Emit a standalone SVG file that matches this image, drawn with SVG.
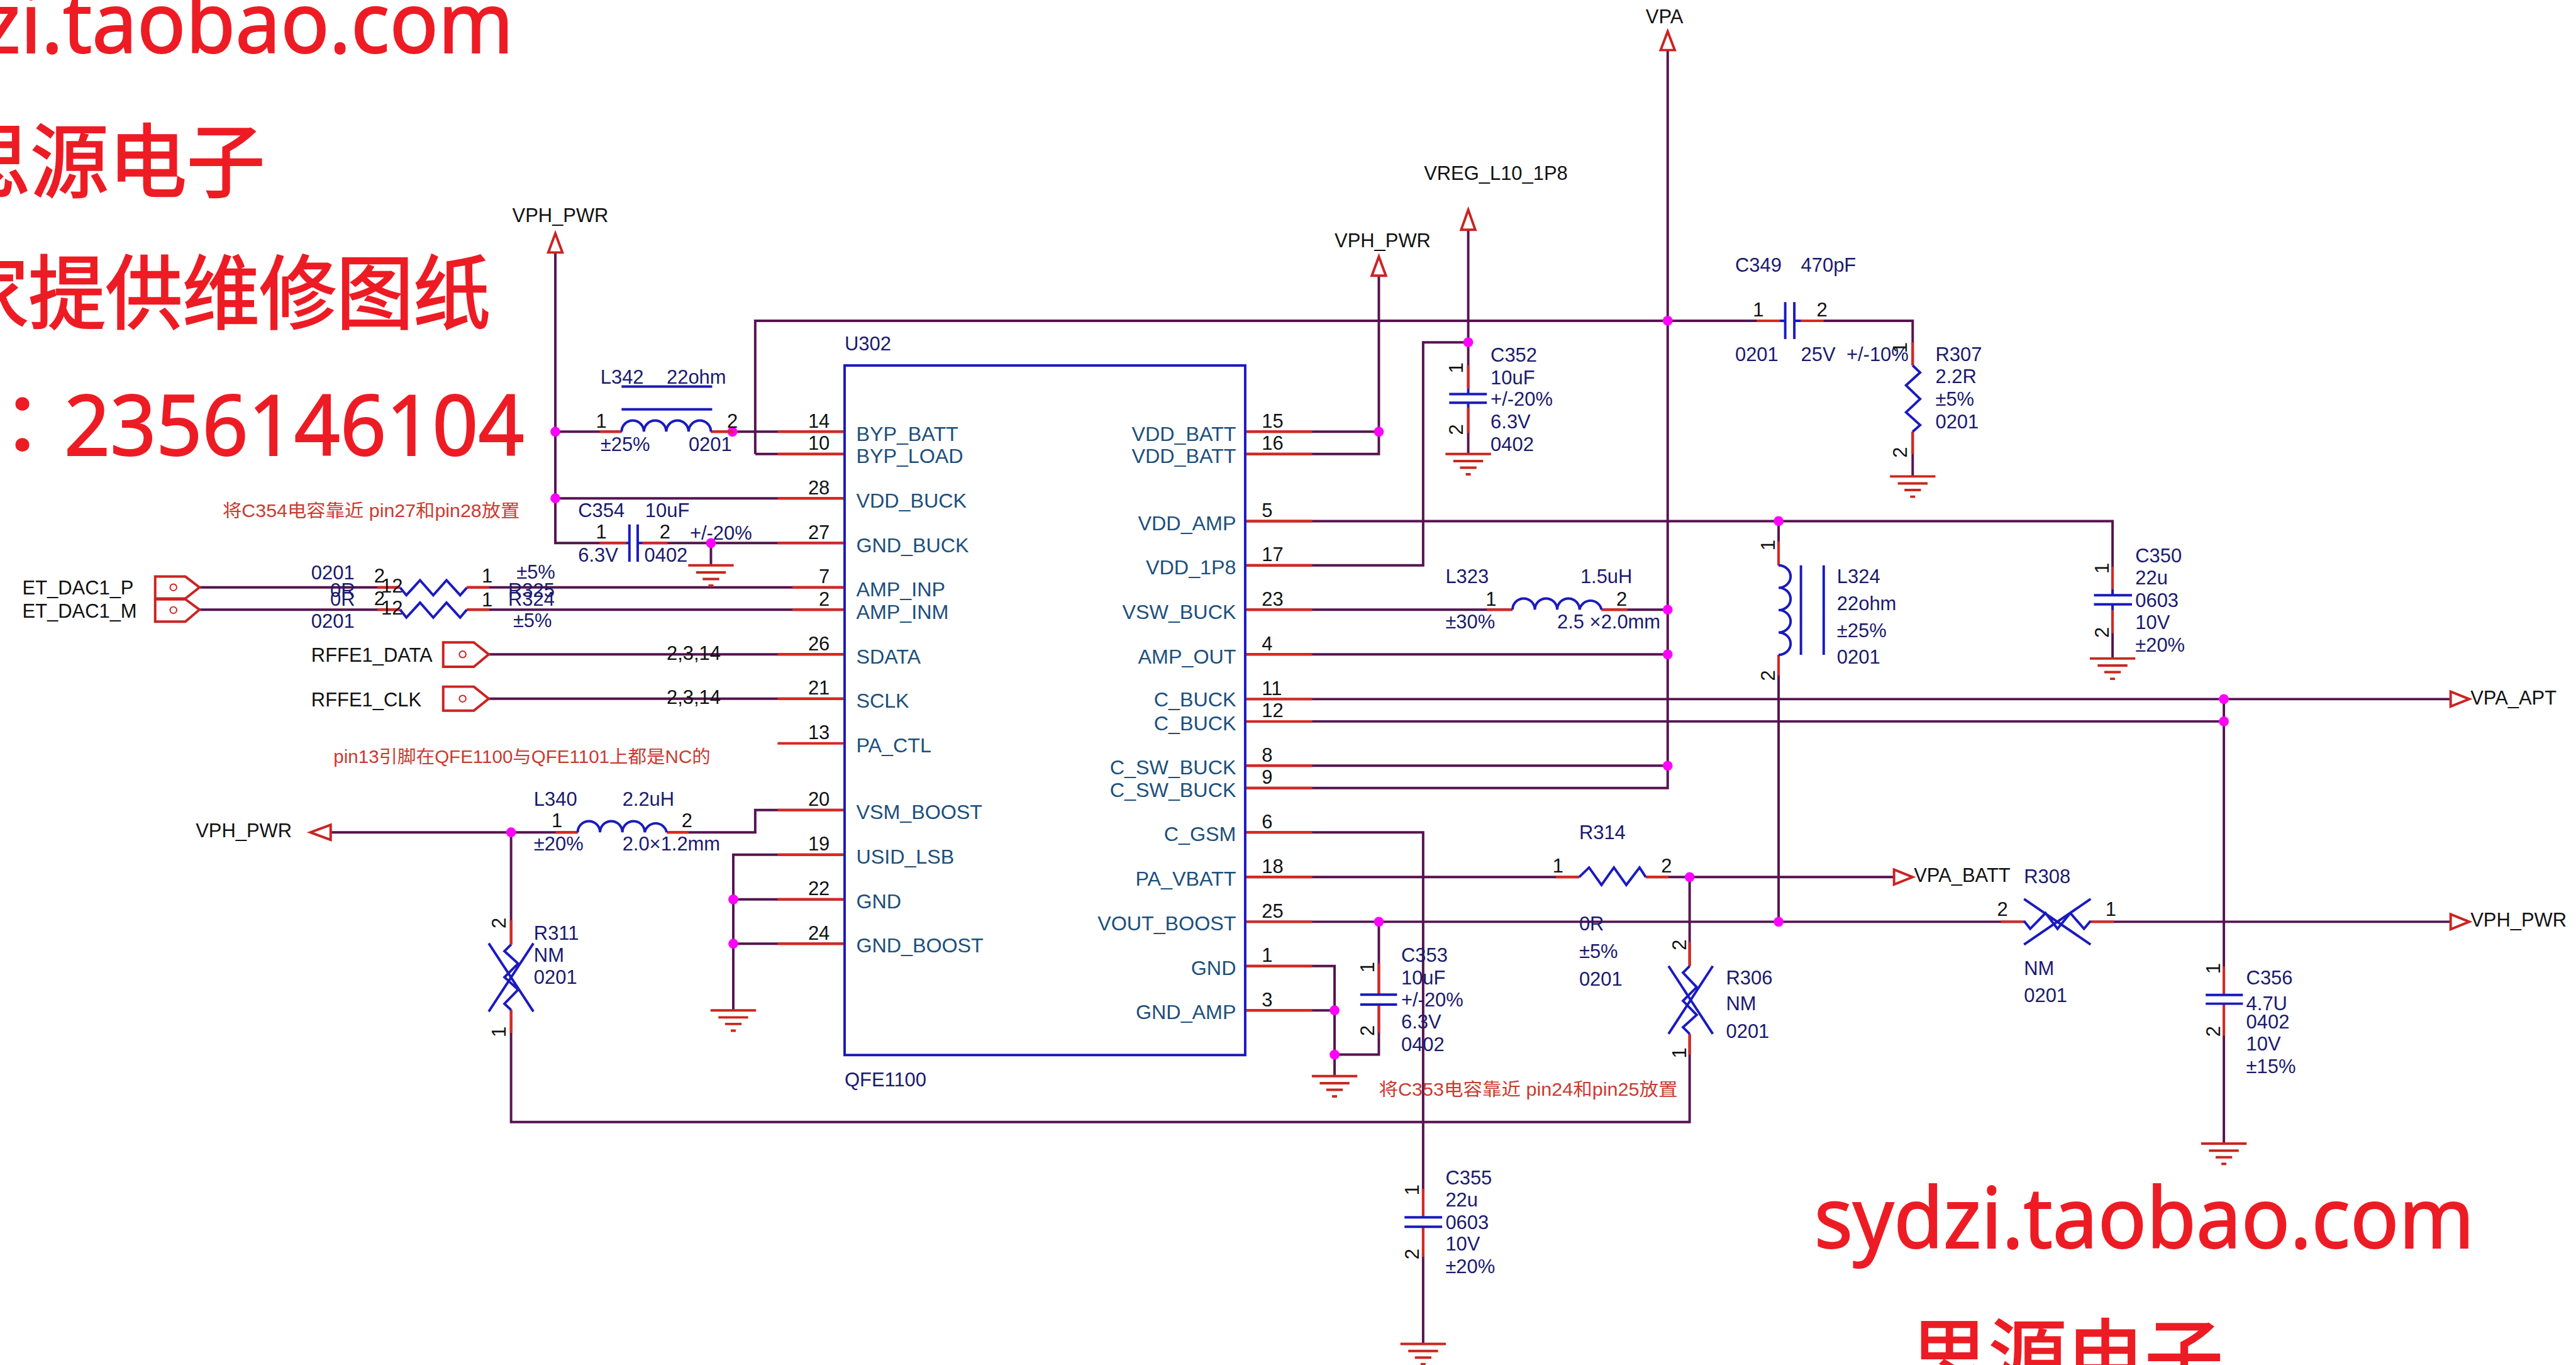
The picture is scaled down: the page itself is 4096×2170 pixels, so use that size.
<svg xmlns="http://www.w3.org/2000/svg" width="4096" height="2170" viewBox="0 0 4096 2170">
<style>
text{font-family:"Liberation Sans","Noto Sans CJK SC",sans-serif;font-size:47px}
.w{fill:none;stroke:#561450;stroke-width:6}
.s{fill:none;stroke:#d9281e;stroke-width:6}
.b{fill:none;stroke:#1a1ac0;stroke-width:6}
.a{fill:#fff;stroke:#cc2222;stroke-width:6}
.g{fill:none;stroke:#c8281e;stroke-width:6}
.dot{fill:#f0f}
.n{fill:#111}
.k{fill:#111}
.l{fill:#1c4f7c;font-size:49px;transform:translateY(-2px)}
.r{fill:#1c4f7c;font-size:49px;text-anchor:end;transform:translateY(-2px)}
.d{fill:#1a1a6e}
.v{fill:#111;text-anchor:middle}
.c{fill:#111;text-anchor:middle}
.note{fill:#cc3a30;font-size:44px}
.big{fill:#ed1c24;stroke:#ed1c24;stroke-width:3;font-family:"Noto Sans","Noto Sans CJK SC",sans-serif;font-size:204px}
.cjk{fill:#ed1c24;stroke:#ed1c24;stroke-width:4;font-family:"Noto Sans CJK SC",sans-serif;font-size:195px}
</style>
<defs>
<g id="gnd"><path class="g" d="M-55 0H55M-36 17H36M-20 33H20M-6 49H6"/></g>
<circle id="j" class="dot" r="12"/>
</defs>
<rect width="4096" height="2170" fill="#fff"/>
<g transform="scale(0.658)">
<g id="watermark">
<text class="big" x="-354" y="128" textLength="1595" lengthAdjust="spacingAndGlyphs">sydzi.taobao.com</text>
<text class="cjk" x="-115" y="462" textLength="755" lengthAdjust="spacingAndGlyphs">思源电子</text>
<text class="cjk" x="-117" y="780" textLength="1302" lengthAdjust="spacingAndGlyphs">家提供维修图纸</text>
<text class="big" x="-46" y="1100" style="font-family:'Noto Sans CJK TC',sans-serif;font-size:200px">：</text>
<text class="big" x="155" y="1100" textLength="1112" lengthAdjust="spacingAndGlyphs">2356146104</text>
<text class="big" x="4384" y="3015" textLength="1595" lengthAdjust="spacingAndGlyphs">sydzi.taobao.com</text>
<text class="cjk" x="4617" y="3350" textLength="755" lengthAdjust="spacingAndGlyphs">思源电子</text>
</g>
<g id="connectors">
<path class="w" d="M1342 610V1312H1513M1342 1043H1502M1718 1043H2041M1342 1204H2041M1553 1312H2041M1718 1312V1366"/>
<path class="w" d="M1825 1097V775H4301M4352 775H4622V883M4622 1043V1151M1825 1097H2041"/>
<path class="w" d="M482 1419H967M1128 1419H2041M482 1473H967M1128 1473H2041M1181 1581H2041M1181 1688H2041"/>
<path class="w" d="M799 2011H1396M1611 2011H1825V1957H2041M1772 2441V2065H2041M1772 2173H2041M1772 2280H2041"/>
<path class="w" d="M1235 2011V2282M1235 2440V2711H4083V2498M4083 2119V2334"/>
<path class="w" d="M3009 1043H3332M3332 666V1097H3009M3009 1366H3439V827H3548M3548 555V938M3548 986V1097"/>
<path class="w" d="M3009 1259H5105V1438M5105 1460V1591M4298 1259V1366M4298 1582V2227"/>
<path class="w" d="M3009 1473H3655M3870 1473H4030M4030 121V1904H3009M3009 1581H4030M3009 1850H4030"/>
<path class="w" d="M3009 1689H5922M3009 1743H5374M5374 1689V2404M5374 2425V2763"/>
<path class="w" d="M3009 2011H3439V2941M3439 2964V3247M3009 2119H3816M3977 2119H4577"/>
<path class="w" d="M3009 2227H4891M5052 2227H5922M3009 2334H3225V2600M3009 2441H3225M3332 2227V2403M3332 2427V2548H3225"/>
<path class="s" d="M1879 1043H2041M1879 1097H2041M1879 1204H2041M1879 1312H2041M1915 1419H2041M1915 1473H2041M1879 1581H2041M1879 1688H2041M1879 1796H2041M1879 1957H2041M1879 2065H2041M1879 2173H2041M1879 2280H2041"/>
<path class="s" d="M3009 1043H3171M3009 1097H3171M3009 1259H3171M3009 1366H3171M3009 1473H3171M3009 1581H3171M3009 1689H3171M3009 1743H3171M3009 1850H3171M3009 1904H3171M3009 2011H3171M3009 2119H3171M3009 2227H3171M3009 2334H3171M3009 2441H3171"/>
<use href="#j" x="1342" y="1043"/><use href="#j" x="1770" y="1043"/><use href="#j" x="1342" y="1204"/><use href="#j" x="1718" y="1312"/>
<use href="#j" x="1235" y="2011"/><use href="#j" x="1772" y="2173"/><use href="#j" x="1772" y="2280"/>
<use href="#j" x="3332" y="1043"/><use href="#j" x="3548" y="827"/><use href="#j" x="4030" y="775"/><use href="#j" x="4030" y="1473"/><use href="#j" x="4030" y="1581"/><use href="#j" x="4030" y="1850"/>
<use href="#j" x="4298" y="1259"/><use href="#j" x="4298" y="2227"/><use href="#j" x="5374" y="1689"/><use href="#j" x="5374" y="1743"/>
<use href="#j" x="3332" y="2227"/><use href="#j" x="3225" y="2441"/><use href="#j" x="3225" y="2548"/><use href="#j" x="4083" y="2119"/>
</g>
<g id="U302">
<rect x="2041" y="883" width="968" height="1666" class="b"/>
<text class="d" x="2041" y="846">U302</text><text class="d" x="2041" y="2625">QFE1100</text>
<text class="l" x="2069" y="1067">BYP_BATT</text><text class="l" x="2069" y="1121">BYP_LOAD</text><text class="l" x="2069" y="1228">VDD_BUCK</text><text class="l" x="2069" y="1336">GND_BUCK</text><text class="l" x="2069" y="1443">AMP_INP</text><text class="l" x="2069" y="1497">AMP_INM</text><text class="l" x="2069" y="1605">SDATA</text><text class="l" x="2069" y="1712">SCLK</text><text class="l" x="2069" y="1819">PA_CTL</text><text class="l" x="2069" y="1980">VSM_BOOST</text><text class="l" x="2069" y="2088">USID_LSB</text><text class="l" x="2069" y="2196">GND</text><text class="l" x="2069" y="2303">GND_BOOST</text>
<text class="r" x="2987" y="1067">VDD_BATT</text><text class="r" x="2987" y="1121">VDD_BATT</text><text class="r" x="2987" y="1283">VDD_AMP</text><text class="r" x="2987" y="1390">VDD_1P8</text><text class="r" x="2987" y="1497">VSW_BUCK</text><text class="r" x="2987" y="1605">AMP_OUT</text><text class="r" x="2987" y="1708">C_BUCK</text><text class="r" x="2987" y="1766">C_BUCK</text><text class="r" x="2987" y="1873">C_SW_BUCK</text><text class="r" x="2987" y="1927">C_SW_BUCK</text><text class="r" x="2987" y="2034">C_GSM</text><text class="r" x="2987" y="2142">PA_VBATT</text><text class="r" x="2987" y="2250">VOUT_BOOST</text><text class="r" x="2987" y="2357">GND</text><text class="r" x="2987" y="2464">GND_AMP</text>
<g text-anchor="end">
<text class="n" x="2005" y="1033">14</text><text class="n" x="2005" y="1087">10</text><text class="n" x="2005" y="1194">28</text><text class="n" x="2005" y="1302">27</text><text class="n" x="2005" y="1409">7</text><text class="n" x="2005" y="1463">2</text><text class="n" x="2005" y="1571">26</text><text class="n" x="2005" y="1678">21</text><text class="n" x="2005" y="1786">13</text><text class="n" x="2005" y="1947">20</text><text class="n" x="2005" y="2055">19</text><text class="n" x="2005" y="2163">22</text><text class="n" x="2005" y="2270">24</text>
</g>
<text class="n" x="3049" y="1033">15</text><text class="n" x="3049" y="1087">16</text><text class="n" x="3049" y="1249">5</text><text class="n" x="3049" y="1356">17</text><text class="n" x="3049" y="1463">23</text><text class="n" x="3049" y="1571">4</text><text class="n" x="3049" y="1679">11</text><text class="n" x="3049" y="1733">12</text><text class="n" x="3049" y="1840">8</text><text class="n" x="3049" y="1894">9</text><text class="n" x="3049" y="2001">6</text><text class="n" x="3049" y="2109">18</text><text class="n" x="3049" y="2217">25</text><text class="n" x="3049" y="2324">1</text><text class="n" x="3049" y="2431">3</text>
</g>
<g id="power-ports">
<polygon class="a" points="1342,564 1325,610 1359,610"/><text class="k" x="1238" y="537">VPH_PWR</text>
<polygon class="a" points="3332,620 3315,666 3349,666"/><text class="k" x="3225" y="598">VPH_PWR</text>
<polygon class="a" points="3548,507 3531,555 3565,555"/><text class="k" x="3441" y="434">VREG_L10_1P8</text>
<polygon class="a" points="4030,76 4013,121 4047,121"/><text class="k" x="3977" y="56">VPA</text>
<polygon class="a" points="750,2011 799,1993 799,2029"/><text class="k" x="473" y="2023">VPH_PWR</text>
<polygon class="a" points="5967,1689 5922,1671 5922,1707"/><text class="k" x="5970" y="1702">VPA_APT</text>
<polygon class="a" points="4622,2119 4577,2101 4577,2137"/><text class="k" x="4625" y="2131">VPA_BATT</text>
<polygon class="a" points="5967,2227 5922,2209 5922,2245"/><text class="k" x="5970" y="2238">VPH_PWR</text>
</g>
<g id="signal-ports">
<polygon class="a" points="375,1393 448,1393 482,1419 448,1446 375,1446"/><circle class="a" cx="419" cy="1419" r="8" style="stroke-width:3"/>
<polygon class="a" points="375,1448 448,1448 482,1473 448,1502 375,1502"/><circle class="a" cx="419" cy="1474" r="8" style="stroke-width:3"/>
<text class="k" x="54" y="1436">ET_DAC1_P</text><text class="k" x="54" y="1492">ET_DAC1_M</text>
<polygon class="a" points="1071,1552 1145,1552 1181,1581 1145,1611 1071,1611"/><circle class="a" cx="1118" cy="1581" r="8" style="stroke-width:3"/>
<polygon class="a" points="1071,1659 1145,1659 1181,1688 1145,1717 1071,1717"/><circle class="a" cx="1118" cy="1688" r="8" style="stroke-width:3"/>
<text class="k" x="752" y="1599">RFFE1_DATA</text><text class="k" x="752" y="1706">RFFE1_CLK</text>
<text class="k" x="1611" y="1594">2,3,14</text><text class="k" x="1611" y="1701">2,3,14</text>
</g>
<g id="grounds">
<use href="#gnd" x="1718" y="1366"/><use href="#gnd" x="1772" y="2441"/><use href="#gnd" x="3548" y="1097"/><use href="#gnd" x="4622" y="1151"/><use href="#gnd" x="5105" y="1591"/><use href="#gnd" x="3225" y="2600"/><use href="#gnd" x="3439" y="3247"/><use href="#gnd" x="5374" y="2763"/>
</g>
<g id="L342">
<path class="s" d="M1449 1043H1502M1718 1043H1772"/>
<path class="b" d="M1502 1043a27 27 0 0 1 54 0a27 27 0 0 1 54 0a27 27 0 0 1 54 0a27 27 0 0 1 54 0M1502 934H1721M1502 989H1721"/>
<text class="d" x="1451" y="927">L342</text><text class="d" x="1611" y="927">22ohm</text><text class="c" x="1453" y="1033">1</text><text class="c" x="1770" y="1033">2</text><text class="d" x="1451" y="1089">±25%</text><text class="d" x="1664" y="1089">0201</text>
</g>
<g id="C354">
<path class="s" d="M1449 1312H1513M1553 1312H1613"/>
<path class="b" d="M1521 1267V1357M1541 1267V1357M1513 1312H1521M1541 1312H1553"/>
<text class="d" x="1397" y="1249">C354</text><text class="d" x="1559" y="1249">10uF</text><text class="c" x="1453" y="1301">1</text><text class="c" x="1607" y="1301">2</text><text class="d" x="1667" y="1304">+/-20%</text><text class="d" x="1397" y="1357">6.3V</text><text class="d" x="1557" y="1357">0402</text>
</g>
<g id="R325">
<path class="s" d="M912 1419H967M1128 1419H1182"/>
<path class="b" d="M967 1420L982 1438L1015 1402L1047 1438L1079 1402L1112 1438L1128 1420"/>
<text class="d" x="752" y="1400">0201</text><text class="k" x="904" y="1408">2</text><text class="k" x="921" y="1432">12</text><text class="k" x="1164" y="1408">1</text><text class="d" x="1248" y="1398">±5%</text><text class="d" x="798" y="1442">0R</text><text class="d" x="1228" y="1442">R325</text>
</g>
<g id="R324">
<path class="s" d="M912 1473H967M1128 1473H1182"/>
<path class="b" d="M967 1473L982 1492L1015 1456L1047 1492L1079 1456L1112 1492L1128 1473"/>
<text class="d" x="752" y="1517">0201</text><text class="k" x="904" y="1462">2</text><text class="k" x="921" y="1485">12</text><text class="k" x="1164" y="1465">1</text><text class="d" x="1240" y="1515">±5%</text><text class="d" x="798" y="1463">0R</text><text class="d" x="1228" y="1463">R324</text>
</g>
<g id="L340">
<path class="s" d="M1343 2011H1396M1611 2011H1664"/>
<path class="b" d="M1396 2011a27 27 0 0 1 54 0a27 27 0 0 1 54 0a27 27 0 0 1 54 0a27 27 0 0 1 53 0"/>
<text class="d" x="1290" y="1947">L340</text><text class="d" x="1504" y="1947">2.2uH</text><text class="c" x="1346" y="1998">1</text><text class="c" x="1660" y="1998">2</text><text class="d" x="1290" y="2054">±20%</text><text class="d" x="1504" y="2054">2.0×1.2mm</text>
</g>
<g id="R311">
<path class="s" d="M1235 2223V2282M1235 2440V2496"/>
<path class="b" d="M1235 2282L1219 2298L1252 2328L1219 2361L1252 2391L1219 2425L1235 2440M1181 2279L1289 2444M1289 2279L1181 2444"/>
<text class="d" x="1290" y="2270">R311</text><text class="d" x="1290" y="2323">NM</text><text class="d" x="1290" y="2377">0201</text>
<text class="v" transform="translate(1222 2230) rotate(-90)">2</text><text class="v" transform="translate(1222 2493) rotate(-90)">1</text>
</g>
<g id="C352">
<path class="s" d="M3548 883V938M3548 986V1046"/>
<path class="b" d="M3502 952H3593M3502 973H3593M3548 938V952M3548 973V986"/>
<text class="d" x="3602" y="874">C352</text><text class="d" x="3602" y="928">10uF</text><text class="d" x="3602" y="981">+/-20%</text><text class="d" x="3602" y="1035">6.3V</text><text class="d" x="3602" y="1089">0402</text>
<text class="v" transform="translate(3535 889) rotate(-90)">1</text><text class="v" transform="translate(3535 1038) rotate(-90)">2</text>
</g>
<g id="C349">
<path class="s" d="M4245 775H4301M4352 775H4407"/>
<path class="b" d="M4314 730V819M4336 730V819M4301 775H4314M4336 775H4352"/>
<text class="d" x="4193" y="656">C349</text><text class="d" x="4352" y="657">470pF</text><text class="c" x="4249" y="764">1</text><text class="c" x="4403" y="764">2</text><text class="d" x="4193" y="873">0201</text><text class="d" x="4352" y="873">25V</text><text class="d" x="4462" y="873">+/-10%</text>
</g>
<g id="R307">
<path class="s" d="M4622 827V883M4622 1043V1097"/>
<path class="b" d="M4622 883L4640 900L4606 931L4640 964L4606 996L4640 1027L4622 1043"/>
<text class="d" x="4677" y="873">R307</text><text class="d" x="4677" y="925">2.2R</text><text class="d" x="4677" y="981">±5%</text><text class="d" x="4677" y="1035">0201</text>
<text class="v" transform="translate(4608 840) rotate(-90)">1</text><text class="v" transform="translate(4608 1093) rotate(-90)">2</text>
</g>
<g id="L323">
<path class="s" d="M3593 1473H3655M3870 1473H3933"/>
<path class="b" d="M3655 1473a27 27 0 0 1 54 0a27 27 0 0 1 54 0a27 27 0 0 1 54 0a27 27 0 0 1 53 0"/>
<text class="d" x="3493" y="1409">L323</text><text class="d" x="3819" y="1409">1.5uH</text><text class="c" x="3603" y="1463">1</text><text class="c" x="3919" y="1463">2</text><text class="d" x="3493" y="1518">±30%</text><text class="d" x="3763" y="1518">2.5 ×2.0mm</text>
</g>
<g id="L324">
<path class="s" d="M4298 1308V1366M4298 1582V1632"/>
<path class="b" d="M4298 1366a29 27 0 0 1 0 54a29 27 0 0 1 0 54a29 27 0 0 1 0 54a29 27 0 0 1 0 54M4352 1366V1582M4407 1366V1582"/>
<text class="d" x="4439" y="1409">L324</text><text class="d" x="4439" y="1474">22ohm</text><text class="d" x="4439" y="1539">±25%</text><text class="d" x="4439" y="1603">0201</text>
<text class="v" transform="translate(4288 1317) rotate(-90)">1</text><text class="v" transform="translate(4288 1632) rotate(-90)">2</text>
</g>
<g id="C350">
<path class="s" d="M5105 1369V1424M5105 1474V1530"/>
<path class="b" d="M5060 1438H5152M5060 1460H5152M5105 1424V1438M5105 1460V1474"/>
<text class="d" x="5160" y="1358">C350</text><text class="d" x="5160" y="1412">22u</text><text class="d" x="5160" y="1466">0603</text><text class="d" x="5160" y="1520">10V</text><text class="d" x="5160" y="1574">±20%</text>
<text class="v" transform="translate(5095 1373) rotate(-90)">1</text><text class="v" transform="translate(5095 1528) rotate(-90)">2</text>
</g>
<g id="R314">
<path class="s" d="M3760 2119H3816M3977 2119H4032"/>
<path class="b" d="M3816 2119L3840 2096L3870 2138L3900 2096L3930 2138L3962 2096L3977 2119"/>
<text class="d" x="3816" y="2028">R314</text><text class="c" x="3765" y="2108">1</text><text class="c" x="4027" y="2108">2</text><text class="d" x="3816" y="2248">0R</text><text class="d" x="3816" y="2314">±5%</text><text class="d" x="3816" y="2381">0201</text>
</g>
<g id="R306">
<path class="s" d="M4083 2276V2334M4083 2498V2548"/>
<path class="b" d="M4083 2334L4067 2350L4100 2385L4067 2418L4100 2452L4067 2482L4083 2498M4032 2334L4139 2498M4139 2334L4032 2498"/>
<text class="d" x="4171" y="2378">R306</text><text class="d" x="4171" y="2441">NM</text><text class="d" x="4171" y="2507">0201</text>
<text class="v" transform="translate(4075 2283) rotate(-90)">2</text><text class="v" transform="translate(4075 2544) rotate(-90)">1</text>
</g>
<g id="R308">
<path class="s" d="M4835 2227H4891M5052 2227H5108"/>
<path class="b" d="M4891 2225L4906 2244L4943 2206L4972 2244L5003 2206L5036 2244L5052 2225M4891 2172L5052 2282M5052 2172L4891 2282"/>
<text class="d" x="4891" y="2134">R308</text><text class="c" x="4839" y="2213">2</text><text class="c" x="5101" y="2213">1</text><text class="d" x="4891" y="2356">NM</text><text class="d" x="4891" y="2421">0201</text>
</g>
<g id="C356">
<path class="s" d="M5374 2335V2404M5374 2425V2502"/>
<path class="b" d="M5330 2404H5420M5330 2425H5420"/>
<text class="d" x="5428" y="2378">C356</text><text class="d" x="5428" y="2440">4.7U</text><text class="d" x="5428" y="2485">0402</text><text class="d" x="5428" y="2538">10V</text><text class="d" x="5428" y="2593">±15%</text>
<text class="v" transform="translate(5364 2340) rotate(-90)">1</text><text class="v" transform="translate(5364 2492) rotate(-90)">2</text>
</g>
<g id="C353">
<path class="s" d="M3332 2327V2403M3332 2427V2495"/>
<path class="b" d="M3287 2403H3376M3287 2427H3376"/>
<text class="d" x="3386" y="2324">C353</text><text class="d" x="3386" y="2378">10uF</text><text class="d" x="3386" y="2432">+/-20%</text><text class="d" x="3386" y="2485">6.3V</text><text class="d" x="3386" y="2539">0402</text>
<text class="v" transform="translate(3320 2337) rotate(-90)">1</text><text class="v" transform="translate(3320 2490) rotate(-90)">2</text>
</g>
<g id="C355">
<path class="s" d="M3439 2872V2941M3439 2964V3037"/>
<path class="b" d="M3394 2941H3485M3394 2964H3485"/>
<text class="d" x="3493" y="2862">C355</text><text class="d" x="3493" y="2915">22u</text><text class="d" x="3493" y="2969">0603</text><text class="d" x="3493" y="3022">10V</text><text class="d" x="3493" y="3076">±20%</text>
<text class="v" transform="translate(3428 2875) rotate(-90)">1</text><text class="v" transform="translate(3428 3030) rotate(-90)">2</text>
</g>
<g id="notes">
<text class="note" x="538" y="1249" textLength="718" lengthAdjust="spacingAndGlyphs">将C354电容靠近 pin27和pin28放置</text>
<text class="note" x="806" y="1844" textLength="911" lengthAdjust="spacingAndGlyphs">pin13引脚在QFE1100与QFE1101上都是NC的</text>
<text class="note" x="3332" y="2648" textLength="722" lengthAdjust="spacingAndGlyphs">将C353电容靠近 pin24和pin25放置</text>
</g>
</g>
</svg>
